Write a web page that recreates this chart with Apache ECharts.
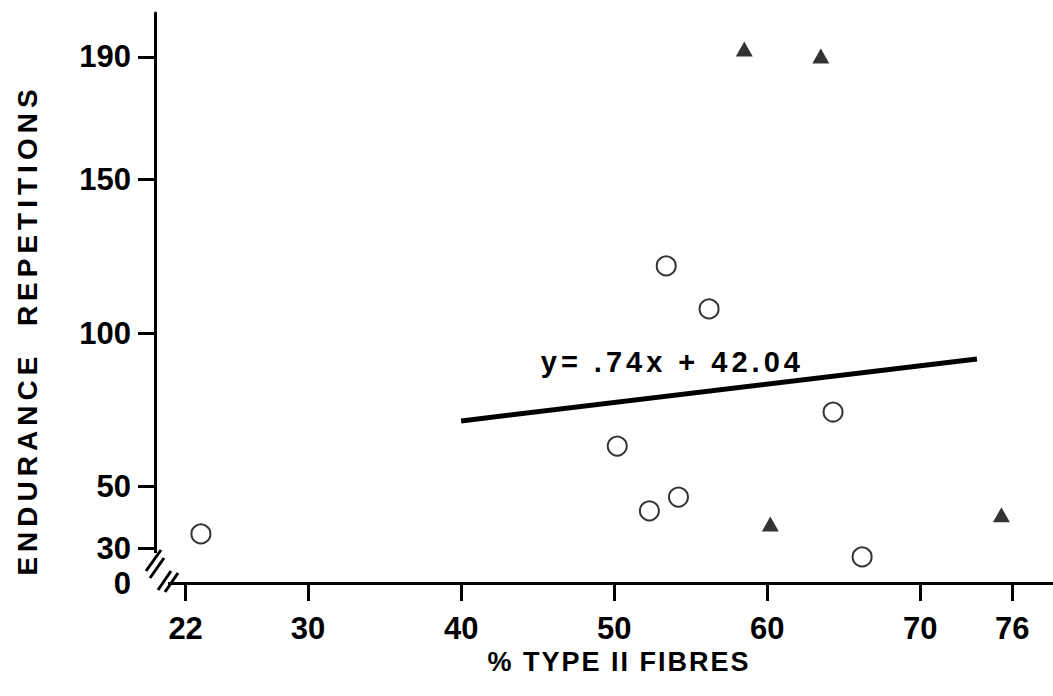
<!DOCTYPE html>
<html>
<head>
<meta charset="utf-8">
<title>Endurance repetitions vs % type II fibres</title>
<script src="https://cdn.jsdelivr.net/npm/echarts@6/dist/echarts.min.js"></script>
<style>
  html, body { margin: 0; padding: 0; background: #fff; }
  #main { width: 1053px; height: 696px; }
  /* the printed titles are letter-spaced; picked out by their font size */
  #main text[style*="28px"] { letter-spacing: 5px; }
  #main text[style*="27px"] { letter-spacing: 2px; }
  #main text[style*="29px"] { letter-spacing: 4px; }
</style>
</head>
<body>
<div id="main"></div>
<script type="text/javascript">
// values
var xTicks = [22, 30, 40, 50, 60, 70, 76];
var yTicks = [30, 50, 100, 150, 190];
var yZero = 18.6;            // where the broken axis shows "0"
var circles = [
    [23.0, 34.6], [53.4, 121.9], [56.2, 107.9], [64.3, 74.3],
    [50.2, 63.2], [52.3, 42.1], [54.2, 46.6], [66.2, 27.1]
];
var triangles = [
    [58.5, 192.6], [63.5, 190.3], [60.2, 37.8], [75.3, 40.8]
];
var fitLine = [[40, 71.4], [73.7, 91.6]];
var eqText = 'y= .74x + 42.04';
var eqAt = [53.8, 90.5];
var xTitle = '% TYPE II FIBRES';
var yTitle = 'ENDURANCE  REPETITIONS';

var font = '"Liberation Sans", Arial, sans-serif';
var myChart = echarts.init(document.getElementById('main'), null, {renderer: 'svg'});

var option = {
    backgroundColor: '#fff',
    animation: false,
    grid: {left: 155, right: 0, top: 13, bottom: 113, outerBoundsMode: 'none'},
    xAxis: {
        type: 'value', min: 20, max: 78.67,
        splitLine: {show: false},
        axisLine: {lineStyle: {color: '#000', width: 3}},
        axisTick: {customValues: xTicks, length: 18, lineStyle: {color: '#000', width: 3}},
        axisLabel: {customValues: xTicks, margin: 30, color: '#000', fontFamily: font, fontWeight: 'bold', fontSize: 31},
        name: xTitle, nameLocation: 'middle', nameGap: 65,
        nameTextStyle: {color: '#000', fontFamily: font, fontWeight: 'bold', fontSize: 27, padding: [0, 0, 0, 30]}
    },
    yAxis: {
        type: 'value', min: yZero, max: 204.3,
        splitLine: {show: false},
        axisLine: {lineStyle: {color: '#000', width: 3}},
        axisTick: {customValues: yTicks, length: 17, lineStyle: {color: '#000', width: 3}},
        axisLabel: {
            customValues: [yZero].concat(yTicks), margin: 24,
            color: '#000', fontFamily: font, fontWeight: 'bold', fontSize: 31,
            formatter: function (v) { return v < 20 ? '0' : String(Math.round(v)); }
        },
        name: yTitle, nameLocation: 'middle', nameGap: 114, nameRotate: 90,
        nameTextStyle: {color: '#000', fontFamily: font, fontWeight: 'bold', fontSize: 28, padding: [0, 64, 0, 0]}
    },
    series: [
        {
            type: 'line', data: fitLine, symbol: 'none',
            lineStyle: {color: '#000', width: 5},
            markPoint: {
                symbol: 'circle', symbolSize: 0,
                label: {show: true, position: 'inside', formatter: eqText, color: '#000',
                        fontFamily: font, fontWeight: 'bold', fontSize: 29},
                data: [{coord: eqAt}]
            }
        },
        {
            type: 'scatter', data: circles, symbol: 'circle', symbolSize: 19,
            itemStyle: {color: '#fff', borderColor: '#000', borderWidth: 2}
        },
        {
            type: 'scatter', data: triangles, symbol: 'triangle', symbolSize: [17, 15],
            itemStyle: {color: '#000'}
        }
    ],
    graphic: [
        // axis break at the corner
        {type: 'rect', z: 100, shape: {x: 146, y: 553, width: 22, height: 38}, style: {fill: '#fff'}},
        {type: 'line', z: 101, shape: {x1: 161, y1: 550, x2: 146, y2: 571}, style: {stroke: '#000', lineWidth: 3}},
        {type: 'line', z: 101, shape: {x1: 164, y1: 558, x2: 150, y2: 578}, style: {stroke: '#000', lineWidth: 3}},
        {type: 'line', z: 101, shape: {x1: 171, y1: 571, x2: 158, y2: 590}, style: {stroke: '#000', lineWidth: 3}},
        {type: 'line', z: 101, shape: {x1: 178, y1: 573, x2: 165, y2: 592}, style: {stroke: '#000', lineWidth: 3}}
    ]
};
myChart.setOption(option);
</script>
</body>
</html>
